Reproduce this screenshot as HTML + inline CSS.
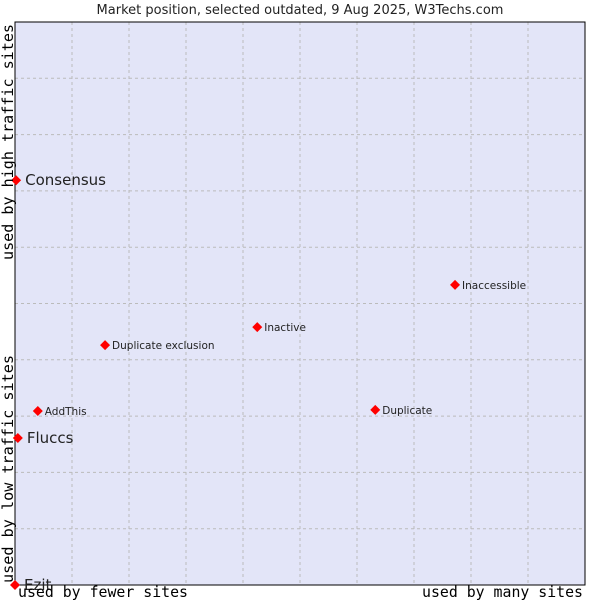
<!DOCTYPE html>
<html><head><meta charset="utf-8"><style>
body{margin:0;background:#fff;}
svg{display:block;font-family:"DejaVu Sans","Liberation Sans",sans-serif;}
</style></head><body>
<svg id="chart" width="600" height="600">
<text x="300" y="14" text-anchor="middle" font-size="13" fill="#222">Market position, selected outdated, 9 Aug 2025, W3Techs.com</text>
<rect x="15" y="22" width="570" height="563" fill="#e3e5f8"/>
<g id="grid"></g>
<rect x="15" y="22" width="570" height="563" fill="none" stroke="#000"/>
<g id="points"></g>
<text x="18" y="597" textLength="170" lengthAdjust="spacingAndGlyphs" font-family="'DejaVu Sans Mono','Liberation Mono',monospace" font-size="15" fill="#000">used by fewer sites</text>
<text x="422" y="597" textLength="161" lengthAdjust="spacingAndGlyphs" font-family="'DejaVu Sans Mono','Liberation Mono',monospace" font-size="15" fill="#000">used by many sites</text>
<text transform="translate(13,583) rotate(-90)" textLength="228" lengthAdjust="spacingAndGlyphs" font-family="'DejaVu Sans Mono','Liberation Mono',monospace" font-size="15" fill="#000">used by low traffic sites</text>
<text transform="translate(13,260) rotate(-90)" textLength="236" lengthAdjust="spacingAndGlyphs" font-family="'DejaVu Sans Mono','Liberation Mono',monospace" font-size="15" fill="#000">used by high traffic sites</text>
</svg>
<script>
const names = ["Consensus","Fluccs","Ezit","AddThis","Duplicate exclusion","Inactive","Inaccessible","Duplicate"];
const xValues = [0.2,0.5,0,4.0,15.8,42.5,77.2,63.2];
const yValues = [71.9,26.1,0,30.9,42.6,45.8,53.3,31.1];
const bigLabel = [true,true,true,false,false,false,false,false];
const NS="http://www.w3.org/2000/svg";
const L=15,R=585,T=22,B=585;
const xs=v=>L+v/100*(R-L);
const ys=v=>B-v/100*(B-T);
const grid=document.getElementById('grid');
for(let i=1;i<10;i++){
  const v=document.createElementNS(NS,'line');
  v.setAttribute('x1',xs(i*10));v.setAttribute('x2',xs(i*10));v.setAttribute('y1',T);v.setAttribute('y2',B);
  v.setAttribute('stroke','#bbb');v.setAttribute('stroke-dasharray','3,3');
  
  
  grid.appendChild(v);
  const h=document.createElementNS(NS,'line');
  h.setAttribute('y1',ys(i*10));h.setAttribute('y2',ys(i*10));h.setAttribute('x1',L);h.setAttribute('x2',R);
  h.setAttribute('stroke','#bbb');h.setAttribute('stroke-dasharray','3,3');
  
  
  grid.appendChild(h);
}
const pts=document.getElementById('points');
names.forEach((n,i)=>{
  const x=xs(xValues[i]),y=ys(yValues[i]);
  const d=document.createElementNS(NS,'path');
  d.setAttribute('d',`M${x-5},${y} L${x},${y-5} L${x+5},${y} L${x},${y+5} Z`);
  d.setAttribute('fill','#f00');
  
  
  pts.appendChild(d);
  const t=document.createElementNS(NS,'text');
  t.setAttribute('x',x+(bigLabel[i]?9:7));
  t.setAttribute('y',y+(bigLabel[i]?5:4));
  t.setAttribute('font-size',bigLabel[i]?15:10.5);
  t.setAttribute('fill','#222');
  t.textContent=n;
  
  
  pts.appendChild(t);
});
</script>
</body></html>
